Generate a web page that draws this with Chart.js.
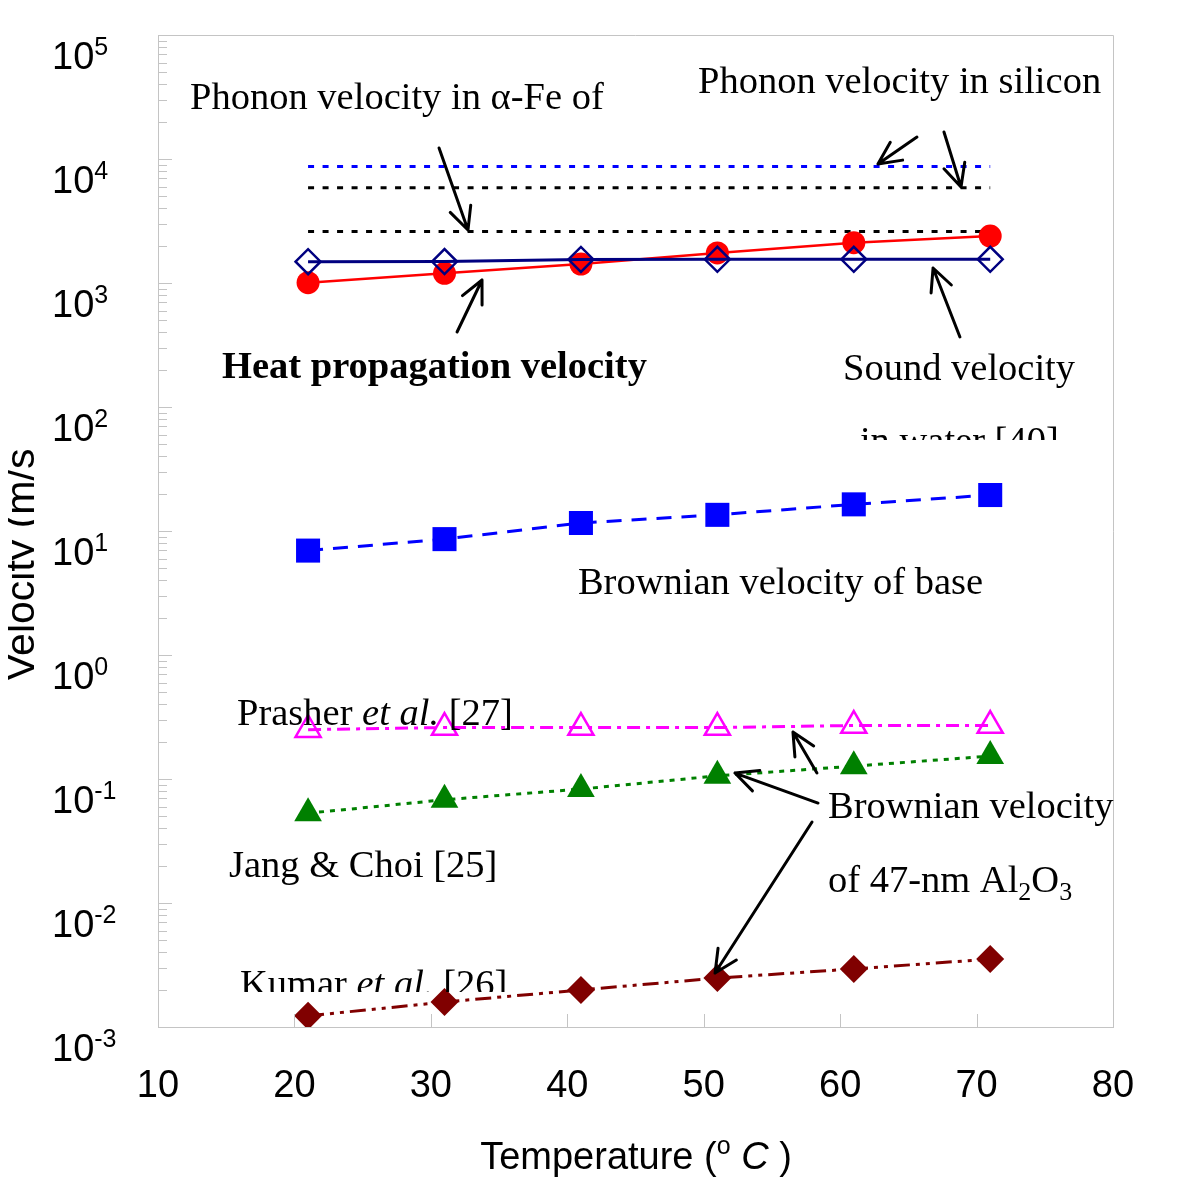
<!DOCTYPE html>
<html><head><meta charset="utf-8">
<script src="https://cdn.jsdelivr.net/npm/chart.js@4.4.1/dist/chart.umd.min.js"></script>
<style>html,body{margin:0;padding:0;background:#fff;}canvas{display:block;}</style>
</head><body>
<canvas id="c" width="1200" height="1193"></canvas>
<script>
// ---- data ----
const temps = [21, 31, 41, 51, 61, 71];
const heatVel = [1006, 1197, 1422, 1746, 2113, 2393];
const soundVel = [1486, 1490, 1550, 1553, 1553, 1553];
const baseBrown = [6.95, 8.6, 11.6, 13.5, 16.4, 19.5];
const prasher = [0.25, 0.26, 0.26, 0.26, 0.27, 0.27];
const jangChoi = [0.053, 0.068, 0.083, 0.106, 0.127, 0.153];
const kumar = [0.00123, 0.00159, 0.00199, 0.00248, 0.00294, 0.00353];
const phononT = [21, 71];
const phononSiL = [8700, 8700];
const phononSiT = [5850, 5850];
const phononFe = [2600, 2600];
const xTicks = [10, 20, 30, 40, 50, 60, 70, 80];
const yTickExps = [5, 4, 3, 2, 1, 0, -1, -2, -3];

const pts = (xs, ys) => xs.map((x, i) => ({x, y: ys[i]}));

const SANS = '"Liberation Sans", Arial, sans-serif';
const SERIF = '"Liberation Serif", "Times New Roman", serif';
const FN = '38.5px ' + SERIF, FI = 'italic 38.5px ' + SERIF, FB = 'bold 38.5px ' + SERIF, FS = '26px ' + SERIF;

// annotation texts: position in data space (temperature, log10 velocity) of left/baseline
const notes = [
  {t: 12.35, lg: 4.403, parts: [['Phonon velocity in α-Fe of', FN]]},
  {t: 49.58, lg: 4.532, parts: [['Phonon velocity in silicon', FN]]},
  {t: 14.69, lg: 2.234, parts: [['Heat propagation velocity', FB]]},
  {t: 60.21, lg: 2.218, parts: [['Sound velocity', FN]]},
  {t: 61.45, lg: 1.629, clipLg: 1.734, parts: [['in water [40]', FN]]},
  {t: 40.78, lg: 0.492, parts: [['Brownian velocity of base', FN]]},
  {t: 15.79, lg: -0.565, parts: [['Prasher ', FN], ['et al.', FI], [' [27]', FN]]},
  {t: 15.20, lg: -1.790, parts: [['Jang & Choi [25]', FN]]},
  {t: 16.01, lg: -2.750, clipLg: -2.718, parts: [['Kumar ', FN], ['et al.', FI], [' [26]', FN]]},
  {t: 59.11, lg: -1.315, parts: [['Brownian velocity', FN]]},
  {t: 59.11, lg: -1.911, parts: [['of 47-nm Al', FN], ['2', FS, 8], ['O', FN], ['3', FS, 8]]}
];
// arrows: tail (t, lg) -> tip (t, lg)
const arrows = [
  [30.60, 4.089, 32.72, 3.427],
  [31.92, 2.605, 33.75, 3.024],
  [65.63, 4.177, 62.77, 3.960],
  [67.61, 4.218, 68.86, 3.774],
  [68.78, 2.565, 66.81, 3.121],
  [58.30, -0.952, 56.54, -0.621],
  [58.38, -1.194, 52.29, -0.952],
  [57.94, -1.347, 50.83, -2.565]
];

const overlay = {
  id: 'overlay',
  afterDraw(chart) {
    const ctx = chart.ctx, xs = chart.scales.x, ys = chart.scales.y, a = chart.chartArea;
    const P = (t, lg) => [xs.getPixelForValue(t), ys.getPixelForValue(Math.pow(10, lg))];
    ctx.save();
    // frame top/right
    ctx.strokeStyle = '#c4c4c4'; ctx.lineWidth = 1;
    ctx.beginPath();
    ctx.moveTo(a.left, Math.round(a.top) + 0.5);
    ctx.lineTo(Math.round(a.right) + 0.5, Math.round(a.top) + 0.5);
    ctx.lineTo(Math.round(a.right) + 0.5, a.bottom);
    ctx.stroke();
    // y ticks (inward), majors and minors
    for (let e = -3; e <= 4; e++) {
      for (let m = 1; m <= 9; m++) {
        const py = Math.round(ys.getPixelForValue(m * Math.pow(10, e))) + 0.5;
        ctx.beginPath(); ctx.moveTo(a.left, py); ctx.lineTo(a.left + (m === 1 ? 14 : 9), py); ctx.stroke();
      }
    }
    // x ticks (inward)
    xTicks.forEach(t => {
      const px = Math.round(xs.getPixelForValue(t)) + 0.5;
      ctx.beginPath(); ctx.moveTo(px, a.bottom); ctx.lineTo(px, a.bottom - 13); ctx.stroke();
    });
    // y tick labels with superscript exponents
    ctx.fillStyle = '#000'; ctx.textAlign = 'left'; ctx.textBaseline = 'alphabetic';
    yTickExps.forEach(e => {
      const py = ys.getPixelForValue(Math.pow(10, e));
      ctx.font = '38px ' + SANS;
      ctx.fillText('10', 52, py + 34);
      const w = ctx.measureText('10').width;
      ctx.font = '25px ' + SANS;
      ctx.fillText(String(e), 52 + w, py + 20);
    });
    // x axis title
    const tparts = [['Temperature (', '38px ' + SANS, 0], ['o', '25px ' + SANS, -15], [' ', '38px ' + SANS, 0], ['C', 'italic 38px ' + SANS, 0], [' )', '38px ' + SANS, 0]];
    let tw = 0;
    tparts.forEach(p => { ctx.font = p[1]; tw += ctx.measureText(p[0]).width; });
    let cx = 636 - tw / 2;
    tparts.forEach(p => { ctx.font = p[1]; ctx.fillText(p[0], cx, 1169 + p[2]); cx += ctx.measureText(p[0]).width; });
    // y axis title (partly cut, as in the reference)
    ctx.save();
    ctx.beginPath(); ctx.rect(8, 446, 26, 238); ctx.clip();
    ctx.translate(34, 681); ctx.rotate(-Math.PI / 2);
    ctx.font = '41px ' + SANS;
    ctx.fillText('Velocity (m/s)', 0, 0);
    ctx.restore();
    // annotation texts
    notes.forEach(n => {
      const [x, y] = P(n.t, n.lg);
      ctx.save();
      if (n.clipLg !== undefined) {
        const cy = P(n.t, n.clipLg)[1];
        ctx.beginPath(); ctx.rect(0, 0, 1200, cy); ctx.clip();
      }
      let px = x;
      n.parts.forEach(p => { ctx.font = p[1]; ctx.fillText(p[0], px, y + (p[2] || 0)); px += ctx.measureText(p[0]).width; });
      ctx.restore();
    });
    // arrows
    ctx.strokeStyle = '#000'; ctx.lineWidth = 3; ctx.lineCap = 'round'; ctx.lineJoin = 'round';
    arrows.forEach(ar => {
      const [x1, y1] = P(ar[0], ar[1]);
      const [x2, y2] = P(ar[2], ar[3]);
      const ang = Math.atan2(y2 - y1, x2 - x1);
      const hl = 25, ha = 0.45;
      ctx.beginPath();
      ctx.moveTo(x1, y1); ctx.lineTo(x2, y2);
      ctx.moveTo(x2 - hl * Math.cos(ang - ha), y2 - hl * Math.sin(ang - ha));
      ctx.lineTo(x2, y2);
      ctx.lineTo(x2 - hl * Math.cos(ang + ha), y2 - hl * Math.sin(ang + ha));
      ctx.stroke();
    });
    ctx.restore();
  }
};

const noFill = 'rgba(0,0,0,0)';
new Chart(document.getElementById('c'), {
  type: 'line',
  data: {
    datasets: [
      {data: pts(temps, soundVel), borderColor: '#000080', borderWidth: 3, pointStyle: 'rectRot', pointRadius: 12.5,
       pointBorderWidth: 2.5, pointBorderColor: '#000080', pointBackgroundColor: noFill},
      {data: pts(temps, heatVel), borderColor: '#ff0000', borderWidth: 2.5, pointStyle: 'circle', pointRadius: 11.5,
       pointBorderWidth: 0, pointBackgroundColor: '#ff0000'},
      {data: pts(phononT, phononSiL), borderColor: '#0000ff', borderWidth: 3, borderDash: [6, 8.5], pointRadius: 0},
      {data: pts(phononT, phononSiT), borderColor: '#000000', borderWidth: 3, borderDash: [6, 8.5], pointRadius: 0},
      {data: pts(phononT, phononFe), borderColor: '#000000', borderWidth: 3, borderDash: [6, 8.5], pointRadius: 0},
      {data: pts(temps, baseBrown), borderColor: '#0000ff', borderWidth: 3, borderDash: [15, 10], pointStyle: 'rect',
       pointRadius: 17, pointBorderWidth: 0, pointBackgroundColor: '#0000ff'},
      {data: pts(temps, prasher), borderColor: '#ff00ff', borderWidth: 3, borderDash: [13, 6, 4, 6], pointStyle: 'triangle',
       pointRadius: 14.5, pointBorderWidth: 2.5, pointBorderColor: '#ff00ff', pointBackgroundColor: noFill},
      {data: pts(temps, jangChoi), borderColor: '#008000', borderWidth: 3, borderDash: [5, 6], pointStyle: 'triangle',
       pointRadius: 16, pointBorderWidth: 0, pointBackgroundColor: '#008000'},
      {data: pts(temps, kumar), borderColor: '#800000', borderWidth: 3, borderDash: [16, 6, 4, 6, 4, 6], pointStyle: 'rectRot',
       pointRadius: 14, pointBorderWidth: 0, pointBackgroundColor: '#800000'}
    ]
  },
  options: {
    responsive: false, animation: false, devicePixelRatio: 1,
    layout: {padding: {left: 0, right: 87, top: 35, bottom: 0}},
    plugins: {legend: {display: false}, tooltip: {enabled: false}},
    elements: {line: {tension: 0, fill: false}},
    scales: {
      x: {
        type: 'linear', min: 10, max: 80,
        afterBuildTicks(s) { s.ticks = xTicks.map(v => ({value: v})); },
        ticks: {color: '#000', font: {family: SANS, size: 38}, padding: 37, maxRotation: 0, autoSkip: false},
        grid: {display: false, drawTicks: false},
        border: {display: true, color: '#c4c4c4', width: 1},
        title: {display: false},
        afterFit(s) { s.height = 166; }
      },
      y: {
        type: 'logarithmic', min: 1e-3, max: 1e5,
        ticks: {display: false},
        grid: {display: false, drawTicks: false},
        border: {display: true, color: '#c4c4c4', width: 1},
        afterFit(s) { s.width = 158; }
      }
    }
  },
  plugins: [overlay]
});
</script>
</body></html>
